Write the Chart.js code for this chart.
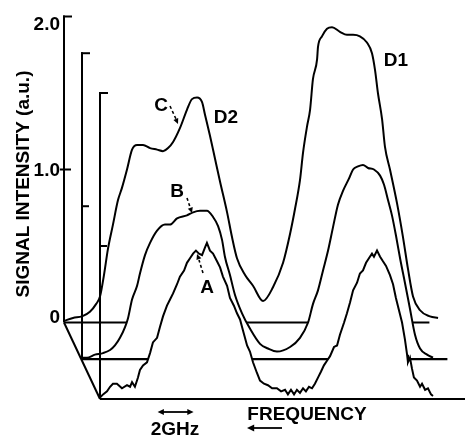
<!DOCTYPE html>
<html>
<head>
<meta charset="utf-8">
<script src="https://cdn.jsdelivr.net/npm/chart.js@4/dist/chart.umd.min.js"></script>
<style>
  html, body { margin: 0; padding: 0; background: #fff; }
  canvas { display: block; }
</style>
</head>
<body>
<canvas id="chart" width="465" height="438"></canvas>
<script>
  // spectra: [frequency (GHz from own origin), intensity (a.u.)]
  const TRACE_C = [
    [0,0.01],[0.5,0.03],[1.0,0.04],[1.44,0.07],[1.78,0.12],[2.0,0.17],[2.22,0.31],[2.44,0.48],
    [2.72,0.64],[3.0,0.80],[3.22,0.88],[3.5,1.00],[3.78,1.13],[4.06,1.16],[4.39,1.16],[4.78,1.14],
    [5.17,1.13],[5.5,1.12],[5.78,1.14],[6.06,1.18],[6.44,1.27],[6.83,1.39],[7.11,1.46],[7.39,1.47],
    [7.67,1.44],[7.83,1.36],[8.11,1.22],[8.39,1.07],[8.67,0.92],[9.06,0.72],[9.33,0.56],[9.61,0.42],
    [10.06,0.31],[10.5,0.24],[11.06,0.14],[11.61,0.23],[12.17,0.39],[12.56,0.58],[12.83,0.74],
    [13.11,0.93],[13.28,1.11],[13.5,1.28],[13.67,1.39],[13.83,1.59],[14.06,1.72],[14.11,1.80],
    [14.33,1.87],[14.61,1.92],[14.89,1.93],[15.33,1.90],[15.72,1.88],[16.06,1.88],[16.44,1.87],
    [16.83,1.83],[17.11,1.76],[17.28,1.65],[17.44,1.50],[17.67,1.33],[17.83,1.15],[18.11,1.00],
    [18.5,0.78],[18.83,0.56],[19.11,0.35],[19.39,0.17],[19.78,0.08],[20.33,0.04],[20.78,0.03]
  ];
  const TRACE_B = [
    [0,0.01],[0.28,0.01],[0.72,0.03],[1.17,0.04],[1.56,0.06],[1.83,0.09],[2.11,0.14],[2.39,0.21],
    [2.56,0.27],[2.78,0.39],[3.06,0.48],[3.22,0.56],[3.5,0.68],[3.78,0.76],[4.17,0.84],[4.61,0.88],
    [4.89,0.88],[5.28,0.92],[5.83,0.94],[6.17,0.96],[6.56,0.97],[6.94,0.97],[7.28,0.93],[7.56,0.87],
    [7.78,0.78],[7.94,0.67],[8.22,0.55],[8.5,0.42],[8.89,0.30],[9.33,0.20],[9.89,0.10],[10.33,0.07],
    [10.83,0.05],[11.56,0.08],[12.11,0.14],[12.56,0.24],[12.83,0.36],[13.11,0.45],[13.39,0.58],
    [13.67,0.71],[13.94,0.86],[14.22,1.01],[14.5,1.10],[14.83,1.18],[15.06,1.24],[15.33,1.26],
    [15.61,1.27],[15.89,1.25],[16.22,1.24],[16.56,1.20],[16.78,1.14],[17.0,1.04],[17.22,0.94],
    [17.44,0.81],[17.67,0.66],[17.94,0.50],[18.22,0.33],[18.5,0.16],[18.78,0.07],[19.17,0.03],[19.5,0.01]
  ];
  const TRACE_A = [
    [0,0.01],[0.17,0.03],[0.39,0.05],[0.56,0.08],[0.72,0.10],[0.94,0.10],[1.22,0.07],[1.5,0.09],
    [1.67,0.08],[1.78,0.11],[1.94,0.08],[2.11,0.14],[2.22,0.19],[2.39,0.22],[2.61,0.24],[2.78,0.30],
    [2.94,0.37],[3.17,0.40],[3.33,0.47],[3.5,0.54],[3.72,0.61],[3.89,0.65],[4.06,0.69],[4.28,0.75],
    [4.44,0.80],[4.67,0.84],[4.83,0.89],[5.0,0.92],[5.17,0.95],[5.33,0.97],[5.5,0.95],[5.67,0.94],
    [5.83,0.99],[5.94,1.02],[6.11,0.97],[6.28,0.95],[6.5,0.90],[6.67,0.86],[6.83,0.80],[7.06,0.74],
    [7.22,0.66],[7.44,0.61],[7.61,0.56],[7.78,0.52],[7.94,0.45],[8.17,0.35],[8.33,0.31],[8.5,0.24],
    [8.72,0.17],[8.89,0.12],[9.11,0.10],[9.33,0.09],[9.56,0.07],[9.83,0.07],[10.06,0.05],[10.28,0.06],
    [10.44,0.03],[10.61,0.06],[10.78,0.03],[10.94,0.06],[11.11,0.04],[11.28,0.07],[11.44,0.05],
    [11.61,0.08],[11.78,0.07],[11.94,0.10],[12.11,0.14],[12.28,0.18],[12.44,0.22],[12.61,0.25],
    [12.78,0.28],[13.0,0.34],[13.17,0.35],[13.33,0.42],[13.56,0.50],[13.72,0.56],[13.89,0.63],
    [14.06,0.71],[14.28,0.76],[14.44,0.82],[14.61,0.84],[14.78,0.89],[14.94,0.92],[15.11,0.95],
    [15.22,0.93],[15.39,0.97],[15.56,0.93],[15.72,0.90],[15.89,0.87],[16.11,0.81],[16.28,0.75],
    [16.44,0.66],[16.61,0.58],[16.78,0.50],[16.94,0.39],[17.06,0.29],[17.11,0.24],[17.22,0.27],
    [17.33,0.20],[17.44,0.14],[17.61,0.12],[17.78,0.08],[17.89,0.10],[18.06,0.06],[18.22,0.07],
    [18.39,0.03],[18.5,0.02]
  ];

  const TRACE_LABELS = ['A', 'B', 'C'];
  const Y_TICKS = [0, 1.0, 2.0];
  const Y_TICK_LABELS = ['0', '1.0', '2.0'];

  // waterfall offsets (GHz, a.u.) for A, B, C and the baseline length
  const DEPTH = [[0, 0], [-1, 0.26], [-2, 0.5]];
  const SPAN = 20.3;

  const FONT = 'bold 19px "Liberation Sans", Arial, sans-serif';

  function shift(trace, i) {
    return trace.map(p => ({ x: p[0] + DEPTH[i][0], y: p[1] + DEPTH[i][1] }));
  }
  function baseline(i) {
    return [{ x: DEPTH[i][0], y: DEPTH[i][1] }, { x: DEPTH[i][0] + SPAN, y: DEPTH[i][1] }];
  }

  function arrowHead(ctx, x0, y0, x1, y1, size) {
    const a = Math.atan2(y1 - y0, x1 - x0);
    ctx.beginPath();
    ctx.moveTo(x1, y1);
    ctx.lineTo(x1 - size * Math.cos(a - 0.45), y1 - size * Math.sin(a - 0.45));
    ctx.lineTo(x1 - size * Math.cos(a + 0.45), y1 - size * Math.sin(a + 0.45));
    ctx.closePath();
    ctx.fill();
  }
  function seg(ctx, x0, y0, x1, y1) {
    ctx.beginPath(); ctx.moveTo(x0, y0); ctx.lineTo(x1, y1); ctx.stroke();
  }

  const framePlugin = {
    id: 'frame',
    afterDatasetsDraw(chart) {
      const { ctx, scales: { x, y } } = chart;
      ctx.save();
      ctx.strokeStyle = '#000';
      ctx.fillStyle = '#000';
      ctx.lineWidth = 2;

      // one vertical axis per trace, with ticks at 1.0 and 2.0
      DEPTH.forEach(([dx, dy]) => {
        const px = x.getPixelForValue(dx);
        const y0 = y.getPixelForValue(dy);
        const y1 = y.getPixelForValue(dy + 1);
        const y2 = y.getPixelForValue(dy + 2);
        seg(ctx, px, y0, px, y2 - 1);
        seg(ctx, px - 1, y2, px + 8, y2);
        seg(ctx, px, y1, px + 7, y1);
      });
      const back = DEPTH[DEPTH.length - 1];
      const cx = x.getPixelForValue(back[0]);
      seg(ctx, cx - 4, y.getPixelForValue(back[1] + 1), cx, y.getPixelForValue(back[1] + 1));
      // perspective diagonal
      seg(ctx, cx, y.getPixelForValue(back[1]), x.getPixelForValue(DEPTH[0][0]), y.getPixelForValue(DEPTH[0][1]));

      ctx.font = FONT;
      ctx.textAlign = 'right';
      ctx.textBaseline = 'middle';
      Y_TICKS.forEach((t, i) => {
        const ty = y.getPixelForValue(back[1] + t);
        const nudge = t === 2 ? 8 : (t === 0 ? -5 : 1);
        ctx.fillText(Y_TICK_LABELS[i], 60, ty + nudge);
      });

      ctx.save();
      ctx.translate(24, 184);
      ctx.rotate(-Math.PI / 2);
      ctx.textAlign = 'center';
      ctx.fillText('SIGNAL INTENSITY (a.u.)', 0, 0);
      ctx.restore();

      ctx.textAlign = 'center';
      ctx.fillText('FREQUENCY', 307, 415);
      ctx.fillText('2GHz', 175, 430);
      ctx.fillText('D1', 396, 61);
      ctx.fillText('D2', 226, 118);
      ctx.fillText(TRACE_LABELS[2], 161, 106);
      ctx.fillText(TRACE_LABELS[1], 177, 192);
      ctx.fillText(TRACE_LABELS[0], 207, 288);

      // 2 GHz scale bar
      const g0 = x.getPixelForValue(3.2), g1 = x.getPixelForValue(5.2);
      ctx.lineWidth = 1.8;
      seg(ctx, g0 + 3, 412, g1 - 3, 412);
      arrowHead(ctx, g1, 412, g0, 412, 7);
      arrowHead(ctx, g0, 412, g1, 412, 7);
      // frequency direction
      seg(ctx, 252, 428, 282, 428);
      arrowHead(ctx, 282, 428, 247, 428, 8);

      // dashed pointers to the traces
      ctx.lineWidth = 1.6;
      ctx.setLineDash([3, 2.5]);
      seg(ctx, 170, 106, 176, 119);
      seg(ctx, 187, 198, 190, 207);
      seg(ctx, 203, 273, 199, 260);
      ctx.setLineDash([]);
      arrowHead(ctx, 174, 115, 178, 124, 6);
      arrowHead(ctx, 189, 204, 192, 213, 6);
      arrowHead(ctx, 200, 262, 197, 254, 6);

      ctx.restore();
    }
  };

  function curve(trace, i, order, fill, smooth) {
    return {
      data: shift(trace, i),
      order: order,
      borderColor: '#000',
      borderWidth: 2,
      pointRadius: 0,
      tension: 0,
      cubicInterpolationMode: smooth ? 'monotone' : 'default',
      fill: fill ? { value: DEPTH[i][1] } : false,
      backgroundColor: '#fff'
    };
  }
  function base(i, order) {
    return {
      data: baseline(i),
      order: order,
      borderColor: '#000',
      borderWidth: 2.2,
      pointRadius: 0,
      fill: false
    };
  }

  new Chart(document.getElementById('chart'), {
    type: 'line',
    data: {
      datasets: [
        curve(TRACE_C, 2, 6, false, true),
        base(2, 5),
        curve(TRACE_B, 1, 4, true, true),
        base(1, 3),
        curve(TRACE_A, 0, 2, true, false),
        base(0, 1)
      ]
    },
    options: {
      responsive: false,
      animation: false,
      devicePixelRatio: 1,
      layout: { padding: 0 },
      plugins: { legend: { display: false }, tooltip: { enabled: false } },
      scales: {
        x: { type: 'linear', display: false, min: -100 / 18, max: 365 / 18 },
        y: { type: 'linear', display: false, min: -39 / 153, max: 399 / 153 }
      }
    },
    plugins: [framePlugin]
  });
</script>
</body>
</html>
